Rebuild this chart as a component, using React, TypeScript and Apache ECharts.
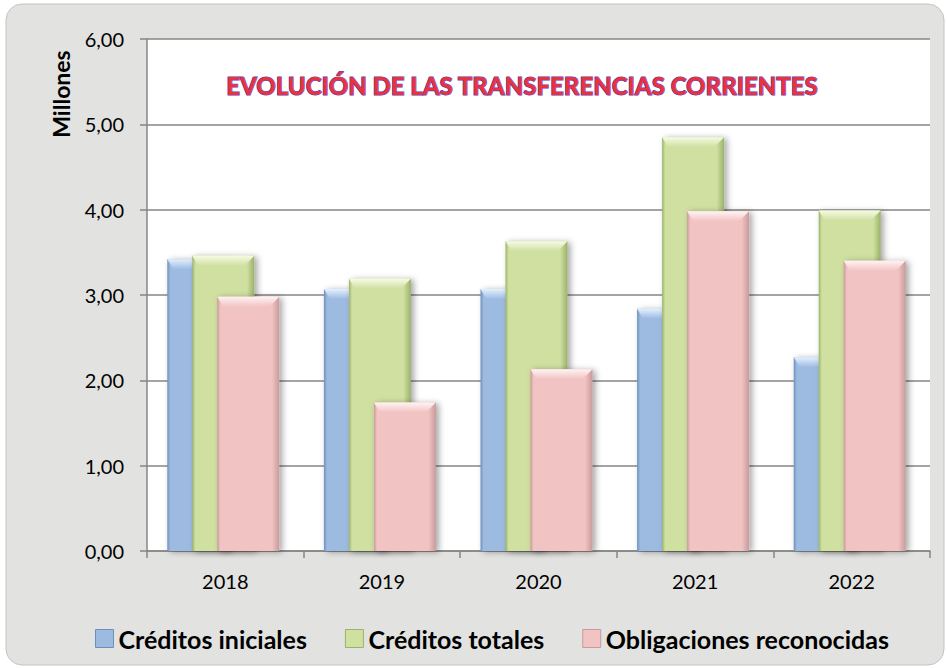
import React, { useEffect, useRef } from "react";
import * as echarts from "echarts";

const years = ["2018", "2019", "2020", "2021", "2022"];
const creditosIniciales = [3.42, 3.07, 3.07, 2.84, 2.27];
const creditosTotales = [3.46, 3.19, 3.63, 4.85, 3.99];
const obligacionesReconocidas = [2.98, 1.74, 2.13, 3.98, 3.4];
const seriesNames = ["Créditos iniciales", "Créditos totales", "Obligaciones reconocidas"];
const yTicks = [0, 1, 2, 3, 4, 5, 6];

const palette = [
  { base: "#9dbbe1", dark: "#6f8fbb", light: "#e4f1ff" },
  { base: "#cfe0a1", dark: "#9bb26a", light: "#f6fbe4" },
  { base: "#f2c3c3", dark: "#c99a9a", light: "#fff3f3" },
];
const offsets = [-58, -33, -8];
const BAR_W = 62;
const BEV = 10;

function makeRender(si: number) {
  const c = palette[si];
  return (params: any, api: any) => {
    const idx = api.value(0);
    const v = api.value(1);
    const top = api.coord([idx, v]);
    const bot = api.coord([idx, 0]);
    const x0 = top[0] + offsets[si];
    const y0 = top[1];
    const y1 = bot[1];
    const h = y1 - y0;
    const w = BAR_W;
    return {
      type: "group",
      children: [
        {
          type: "rect",
          shape: { x: x0, y: y0, width: w, height: h },
          style: {
            fill: new echarts.graphic.LinearGradient(0, 0, 1, 0, [
              { offset: 0, color: c.dark },
              { offset: 0.05, color: c.base },
              { offset: 0.88, color: c.base },
              { offset: 1, color: c.dark },
            ]),
            shadowBlur: 6,
            shadowOffsetX: 3,
            shadowOffsetY: 1,
            shadowColor: "rgba(0,0,0,0.35)",
          },
        },
        {
          type: "polygon",
          shape: {
            points: [
              [x0, y0],
              [x0 + w, y0],
              [x0 + w - BEV, y0 + BEV],
              [x0 + BEV * 0.6, y0 + BEV],
            ],
          },
          style: {
            fill: new echarts.graphic.LinearGradient(0, 0, 0, 1, [
              { offset: 0, color: c.light },
              { offset: 1, color: c.base },
            ]),
          },
        },
      ],
    };
  };
}

export default function App() {
  const ref = useRef<HTMLDivElement>(null);
  useEffect(() => {
    if (!ref.current) return;
    const chart = echarts.init(ref.current, null, { renderer: "svg" });
    const allData = [creditosIniciales, creditosTotales, obligacionesReconocidas];
    chart.setOption({
      animation: false,
      backgroundColor: "#ffffff",
      graphic: [
        {
          type: "rect",
          z: -10,
          silent: true,
          shape: { x: 6, y: 4, width: 938, height: 661, r: 16 },
          style: { fill: "#e2e2e0", stroke: "#c4c4c4", lineWidth: 1 },
        },
        {
          type: "text",
          x: 61,
          y: 94,
          rotation: Math.PI / 2,
          style: {
            text: "Millones",
            font: "bold 23px Lato",
            fill: "#000",
            align: "center",
            verticalAlign: "middle",
          },
        },
        {
          type: "text",
          x: 522,
          y: 85,
          z: 10,
          style: {
            text: "EVOLUCIÓN DE LAS TRANSFERENCIAS CORRIENTES",
            font: "900 24px Lato",
            fill: "#e8323c",
            stroke: "#4a3fcf",
            lineWidth: 1.1,
            align: "center",
            verticalAlign: "middle",
            shadowColor: "rgba(0,0,0,0.25)",
            shadowBlur: 4,
            shadowOffsetY: 6,
          },
        },
      ],
      grid: {
        left: 147,
        top: 39,
        right: 17,
        bottom: 117,
        show: true,
        backgroundColor: "#ffffff",
        borderWidth: 0,
      },
      legend: {
        data: seriesNames.map((n, i) => ({
          name: n,
          icon: "rect",
          itemStyle: { color: palette[i].base, borderColor: palette[i].dark, borderWidth: 1 },
        })),
        left: 90,
        top: 621,
        itemWidth: 18,
        itemHeight: 18,
        itemGap: 38,
        textStyle: { fontFamily: "Lato", fontWeight: "bold", fontSize: 25, color: "#000" },
      },
      xAxis: {
        type: "category",
        data: years,
        axisLine: { lineStyle: { color: "#868686", width: 1.5 } },
        axisTick: { show: true, length: 7, lineStyle: { color: "#868686", width: 1.5 } },
        axisLabel: { fontFamily: "Lato", fontSize: 20, color: "#000", margin: 20 },
        splitLine: { show: false },
      },
      yAxis: {
        type: "value",
        min: yTicks[0],
        max: yTicks[yTicks.length - 1],
        interval: 1,
        axisLine: { show: true, lineStyle: { color: "#868686", width: 1.5 } },
        axisTick: { show: true, length: 7, lineStyle: { color: "#868686", width: 1.5 } },
        axisLabel: {
          fontFamily: "Lato",
          fontSize: 20,
          color: "#000",
          margin: 23,
          formatter: (v: number) => v.toFixed(2).replace(".", ","),
        },
        splitLine: { show: true, lineStyle: { color: "#868686", width: 1.5 } },
      },
      series: allData.map((d, si) => ({
        name: seriesNames[si],
        type: "custom",
        renderItem: makeRender(si),
        encode: { x: 0, y: 1 },
        data: d.map((v, i) => [i, v]),
        z: 2 + si,
      })),
    });
    return () => chart.dispose();
  }, []);
  return (
    <div
      ref={ref}
      style={{ position: "fixed", left: 0, top: 0, width: 947, height: 668 }}
    />
  );
}
